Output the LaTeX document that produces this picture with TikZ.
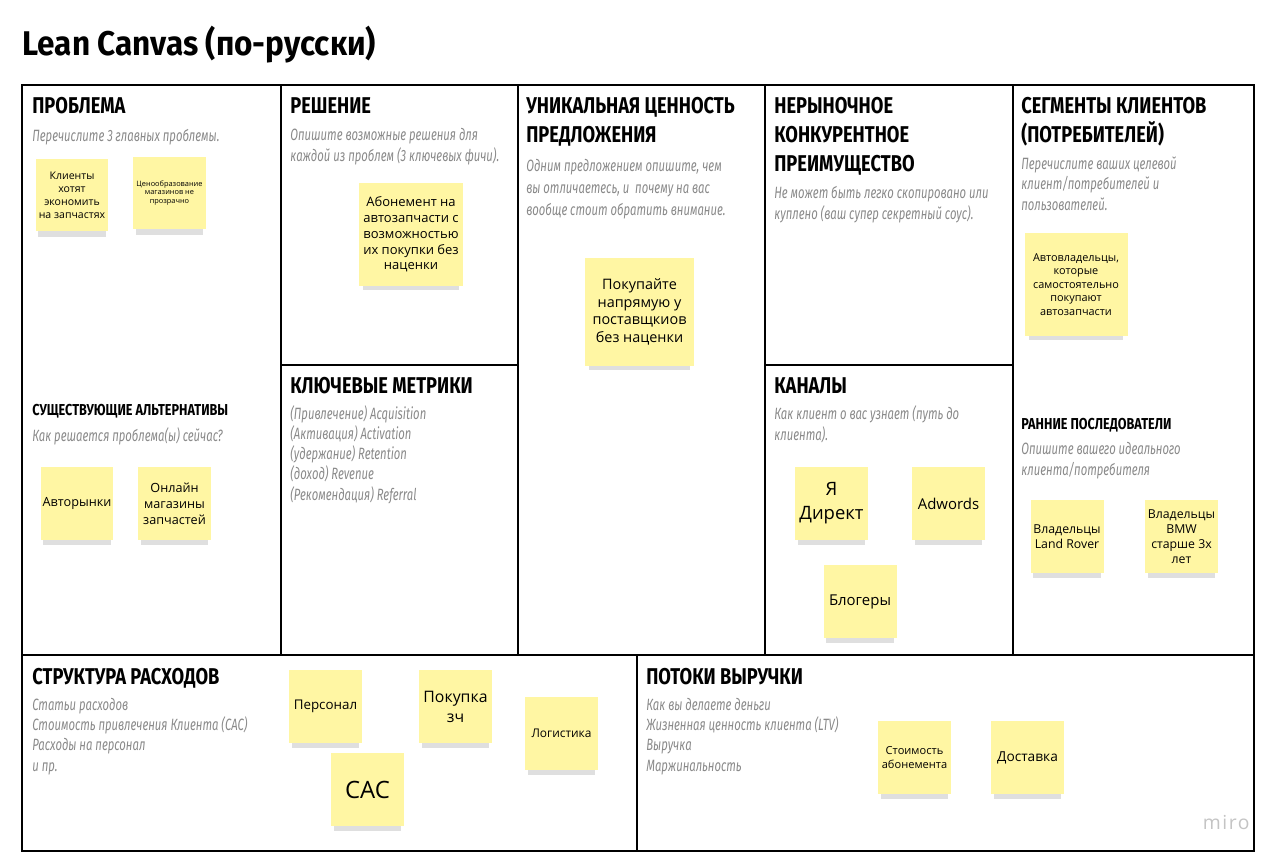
\documentclass[tikz,border=0pt]{standalone}
\usepackage{fontspec}
\setmainfont{Open Sans}
\newfontfamily\headfont{Fira Sans}[FakeStretch=0.8]
\newfontfamily\titlefont{Fira Sans}[FakeStretch=0.92]
\newfontfamily\descfont{Fira Sans}[FakeStretch=0.69]
\usetikzlibrary{shadows}
\definecolor{stickyfill}{HTML}{FFF6A3}
\definecolor{descgray}{HTML}{8A8A8A}
\definecolor{mirogray}{HTML}{C4C4C4}

\begin{document}
\begin{tikzpicture}[x=0.02cm,y=-0.02cm,
    frame/.style={line width=1.6pt},
    title/.style={anchor=base west,inner sep=0pt,font=\titlefont\bfseries\fontsize{19.5}{20}\selectfont},
    head/.style={anchor=base west,inner sep=0pt,align=left,font=\headfont\bfseries\fontsize{13}{16.4}\selectfont},
    subhead/.style={anchor=base west,inner sep=0pt,font=\headfont\bfseries\fontsize{9}{10}\selectfont},
    desc/.style={anchor=base west,inner sep=0pt,align=left,text=descgray,font=\descfont\itshape\fontsize{9.3}{11.4}\selectfont},
    sticky/.style={fill=stickyfill,minimum size=1.46cm,inner sep=1pt,align=center,
        drop shadow={shadow xshift=0pt,shadow yshift=-5pt,shadow scale=0.92,opacity=0.25}}]
    \fill[white] (0,0) rectangle (1280,859);
    \useasboundingbox (0,0) rectangle (1280,859);
    \node[title] (title) at (22,55) {Lean Canvas (по-русски)};
    % frame
    \draw[frame] (22,85) rectangle (1254,851);
    \draw[frame] (281,85) -- (281,655);
    \draw[frame] (518,85) -- (518,655);
    \draw[frame] (765,85) -- (765,655);
    \draw[frame] (1013,85) -- (1013,655);
    \draw[frame] (22,655) -- (1254,655);
    \draw[frame] (637,655) -- (637,851);
    \draw[frame] (281,365) -- (518,365);
    \draw[frame] (765,365) -- (1013,365);
    % headers and hints (multi-line nodes sit on their last baseline)
    \node[head] (problem) at (32,113) {ПРОБЛЕМА};
    \node[desc] (problemtxt) at (32,141) {Перечислите 3 главных проблемы.};
    \node[subhead] (alt) at (32,415) {СУЩЕСТВУЮЩИЕ АЛЬТЕРНАТИВЫ};
    \node[desc] (alttxt) at (32,441) {Как решается проблема(ы) сейчас?};
    \node[head] (solution) at (290,113) {РЕШЕНИЕ};
    \node[desc] (solutiontxt) at (290,161) {Опишите возможные решения для\\каждой из проблем (3 ключевых фичи).};
    \node[head] (metrics) at (290,393) {КЛЮЧЕВЫЕ МЕТРИКИ};
    \node[desc] (metricstxt) at (290,500) {(Привлечение) Acquisition\\(Активация) Activation\\(удержание) Retention\\(доход) Revenue\\(Рекомендация) Referral};
    \node[head] (uvp) at (526,142) {УНИКАЛЬНАЯ ЦЕННОСТЬ\\ПРЕДЛОЖЕНИЯ};
    \node[desc,font=\descfont\itshape\fontsize{9.3}{12.5}\selectfont] (uvptxt) at (526,215) {Одним предложением опишите, чем\\вы отличаетесь, и\ \ почему на вас\\вообще стоит обратить внимание.};
    \node[head] (advantage) at (774,171) {НЕРЫНОЧНОЕ\\КОНКУРЕНТНОЕ\\ПРЕИМУЩЕСТВО};
    \node[desc] (advantagetxt) at (774,219) {Не может быть легко скопировано или\\куплено (ваш супер секретный соус).};
    \node[head] (channels) at (774,393) {КАНАЛЫ};
    \node[desc] (channelstxt) at (774,440) {Как клиент о вас узнает (путь до\\клиента).};
    \node[head] (segments) at (1021,142) {СЕГМЕНТЫ КЛИЕНТОВ\\(ПОТРЕБИТЕЛЕЙ)};
    \node[desc] (segmentstxt) at (1021,210) {Перечислите ваших целевой\\клиент/потребителей и\\пользователей.};
    \node[subhead] (early) at (1021,429) {РАННИЕ ПОСЛЕДОВАТЕЛИ};
    \node[desc] (earlytxt) at (1021,475) {Опишите вашего идеального\\клиента/потребителя};
    \node[head] (costs) at (32,684) {СТРУКТУРА РАСХОДОВ};
    \node[desc] (coststxt) at (32,771) {Статьи расходов\\Стоимость привлечения Клиента (CAC)\\Расходы на персонал\\и пр.};
    \node[head] (revenue) at (646,684) {ПОТОКИ ВЫРУЧКИ};
    \node[desc] (revenuetxt) at (646,771) {Как вы делаете деньги\\Жизненная ценность клиента (LTV)\\Выручка\\Маржинальность};
    % stickies
    \node[sticky,font=\fontsize{6}{7.4}\selectfont] (p1) at (72,195) {Клиенты\\хотят\\экономить\\на запчастях};
    \node[sticky,font=\fontsize{4.2}{4.9}\selectfont] (p2) at (169.5,193) {Ценообразование\\магазинов не\\прозрачно};
    \node[sticky,font=\fontsize{7.2}{9}\selectfont] (a1) at (77,503.5) {Авторынки};
    \node[sticky,font=\fontsize{7.2}{9}\selectfont] (a2) at (174.5,503.5) {Онлайн\\магазины\\запчастей};
    \node[sticky,minimum size=2.08cm,font=\fontsize{7.4}{9}\selectfont] (s1) at (411,234.5) {Абонемент на\\автозапчасти с\\возможностью\\их покупки без\\наценки};
    \node[sticky,minimum size=2.18cm,font=\fontsize{8.2}{10}\selectfont] (u1) at (639.5,312) {Покупайте\\напрямую у\\поставщкиов\\без наценки};
    \node[sticky,font=\fontsize{10.5}{13.6}\selectfont] (c1) at (831.5,503.5) {Я\\Директ};
    \node[sticky,font=\fontsize{8.5}{10}\selectfont] (c2) at (948.5,503.5) {Adwords};
    \node[sticky,font=\fontsize{8.5}{10}\selectfont] (c3) at (860,601.5) {Блогеры};
    \node[sticky,minimum size=2.06cm,font=\fontsize{6.2}{7.7}\selectfont] (g1) at (1076,284.5) {Автовладельцы,\\которые\\самостоятельно\\покупают\\автозапчасти};
    \node[sticky,font=\fontsize{7}{8.5}\selectfont] (e1) at (1067,536.5) {Владельцы\\Land Rover};
    \node[sticky,font=\fontsize{7}{8.5}\selectfont] (e2) at (1181.5,536.5) {Владельцы\\BMW\\старше 3х\\лет};
    \node[sticky,font=\fontsize{7.6}{9}\selectfont] (k1) at (325.5,706.5) {Персонал};
    \node[sticky,font=\fontsize{9}{11.3}\selectfont] (k2) at (455.5,706.5) {Покупка\\зч};
    \node[sticky,font=\fontsize{6.8}{8}\selectfont] (k3) at (561.5,733.5) {Логистика};
    \node[sticky,font=\fontsize{13.6}{15}\selectfont] (k4) at (367.5,789.5) {CAC};
    \node[sticky,font=\fontsize{6.3}{8}\selectfont] (r1) at (914.5,757.5) {Стоимость\\абонемента};
    \node[sticky,font=\fontsize{7.8}{9}\selectfont] (r2) at (1027.5,757.5) {Доставка};
    \node[anchor=base east,inner sep=0pt,text=mirogray,font=\fontsize{11}{11}\selectfont\addfontfeature{LetterSpace=8}] (miro) at (1250,829) {miro};
\end{tikzpicture}
\end{document}
